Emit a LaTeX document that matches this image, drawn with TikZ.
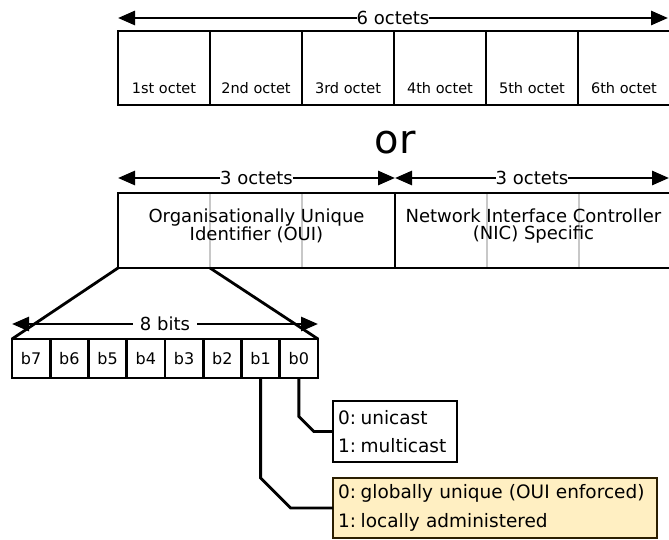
\documentclass[tikz,border=0pt]{standalone}
\usepackage{fontspec}
\setmainfont{DejaVu Sans}
\usetikzlibrary{arrows.meta}
\definecolor{yfill}{HTML}{FFEFC2}
\definecolor{ydraw}{HTML}{2B1E00}
\definecolor{divgray}{HTML}{C8C8C8}
\begin{document}
\begin{tikzpicture}[x=1pt,y=-1pt,line width=2.8pt,
  octcell/.style={draw,minimum width=92pt,minimum height=74pt,inner sep=0pt,outer sep=0pt},
  halfcell/.style={draw,minimum width=277pt,minimum height=75pt,inner sep=0pt,outer sep=0pt},
  bitcell/.style={draw,minimum width=38.25pt,minimum height=39pt,inner sep=0pt,outer sep=0pt,font=\fontsize{16}{18}\selectfont},
  octtxt/.style={font=\fontsize{14.5}{16}\selectfont,inner sep=0pt},
  dimarrow/.style={{Triangle[length=17pt,width=14pt]}-{Triangle[length=17pt,width=14pt]}},
  dimlabel/.style={midway,fill=white,inner sep=0pt,font=\fontsize{18}{20}\selectfont},
  bigtxt/.style={font=\fontsize{18}{17}\selectfont,align=center,inner sep=0pt,anchor=north},
  notebox/.style={draw,anchor=north west,align=left,inner xsep=5pt,inner ysep=0pt,outer sep=0pt,font=\fontsize{18.5}{28.5}\selectfont},
  divider/.style={draw=divgray,line width=2pt,shorten <=1.4pt,shorten >=1.4pt}]
\useasboundingbox (0,0) rectangle (669,540);

% top row of six octets
\foreach \i/\t in {1/1st octet,2/2nd octet,3/3rd octet,4/4th octet,5/5th octet,6/6th octet}{
  \node[octcell] (o\i) at (118+92*\i-46,68) {};
  \node[octtxt] (t\i) at ([yshift=17pt]o\i.south) {\t};
}
\draw[dimarrow] ([yshift=13pt]o1.north west) -- ([yshift=13pt,xshift=-2pt]o6.north east)
  node[dimlabel] (l6) {6 octets};

% or
\node[font=\fontsize{40}{40}\selectfont,inner sep=0pt,anchor=base] (or) at (395,154) {or};

% OUI / NIC
\node[halfcell] (oui) at (256.5,230.5) {};
\node[halfcell] (nic) at (533.5,230.5) {};
\coordinate (d1) at ([xshift=92pt]oui.south west);
\draw[divider] ([xshift=92pt]oui.north west) -- (d1);
\draw[divider] ([xshift=184pt]oui.north west) -- ([xshift=184pt]oui.south west);
\draw[divider] ([xshift=92pt]nic.north west) -- ([xshift=92pt]nic.south west);
\draw[divider] ([xshift=184pt]nic.north west) -- ([xshift=184pt]nic.south west);
\node[bigtxt] (ouitxt) at ([yshift=-14pt]oui.north) {Organisationally Unique\\Identifier (OUI)};
\node[bigtxt] (nictxt) at ([yshift=-14pt]nic.north) {Network Interface Controller\\(NIC) Specific};
\draw[dimarrow] ([yshift=15pt]oui.north west) -- ([yshift=15pt]oui.north east)
  node[dimlabel] (l3a) {3 octets};
\draw[dimarrow] ([yshift=15pt]nic.north west) -- ([yshift=15pt,xshift=-3pt]nic.north east)
  node[dimlabel] (l3b) {3 octets};

% bits
\foreach \b [count=\k from 0] in {7,6,5,4,3,2,1,0}{
  \node[bitcell] (b\b) at (12+38.25*\k+19.125,358.5) {b\b};
}
\draw (oui.south west) -- (b7.north west);
\draw (d1) -- (b0.north east);
\draw[dimarrow] ([yshift=15pt]b7.north west) -- ([yshift=15pt]b0.north east)
  node[dimlabel,inner xsep=7pt,fill=white] (l8) {8 bits};

% notes
\node[notebox,text width=114pt,minimum height=61pt] (uni) at (333,401) {0:\hspace{0.25em}unicast\\1:\hspace{0.25em}multicast};
\node[notebox,text width=314pt,minimum height=60pt,fill=yfill,draw=ydraw] (loc) at (333,478)
  {0:\hspace{0.25em}globally unique (OUI enforced)\\1:\hspace{0.25em}locally administered};

\draw[line join=miter] (b0.south) -- ([yshift=15pt]b0.south |- uni.west) -- ([xshift=15pt]b0.south |- uni.west) -- (uni.west);
\draw[line join=miter] (b1.south) -- ([yshift=30pt]b1.south |- loc.west) -- ([xshift=30pt]b1.south |- loc.west) -- (loc.west);
\end{tikzpicture}
\end{document}
